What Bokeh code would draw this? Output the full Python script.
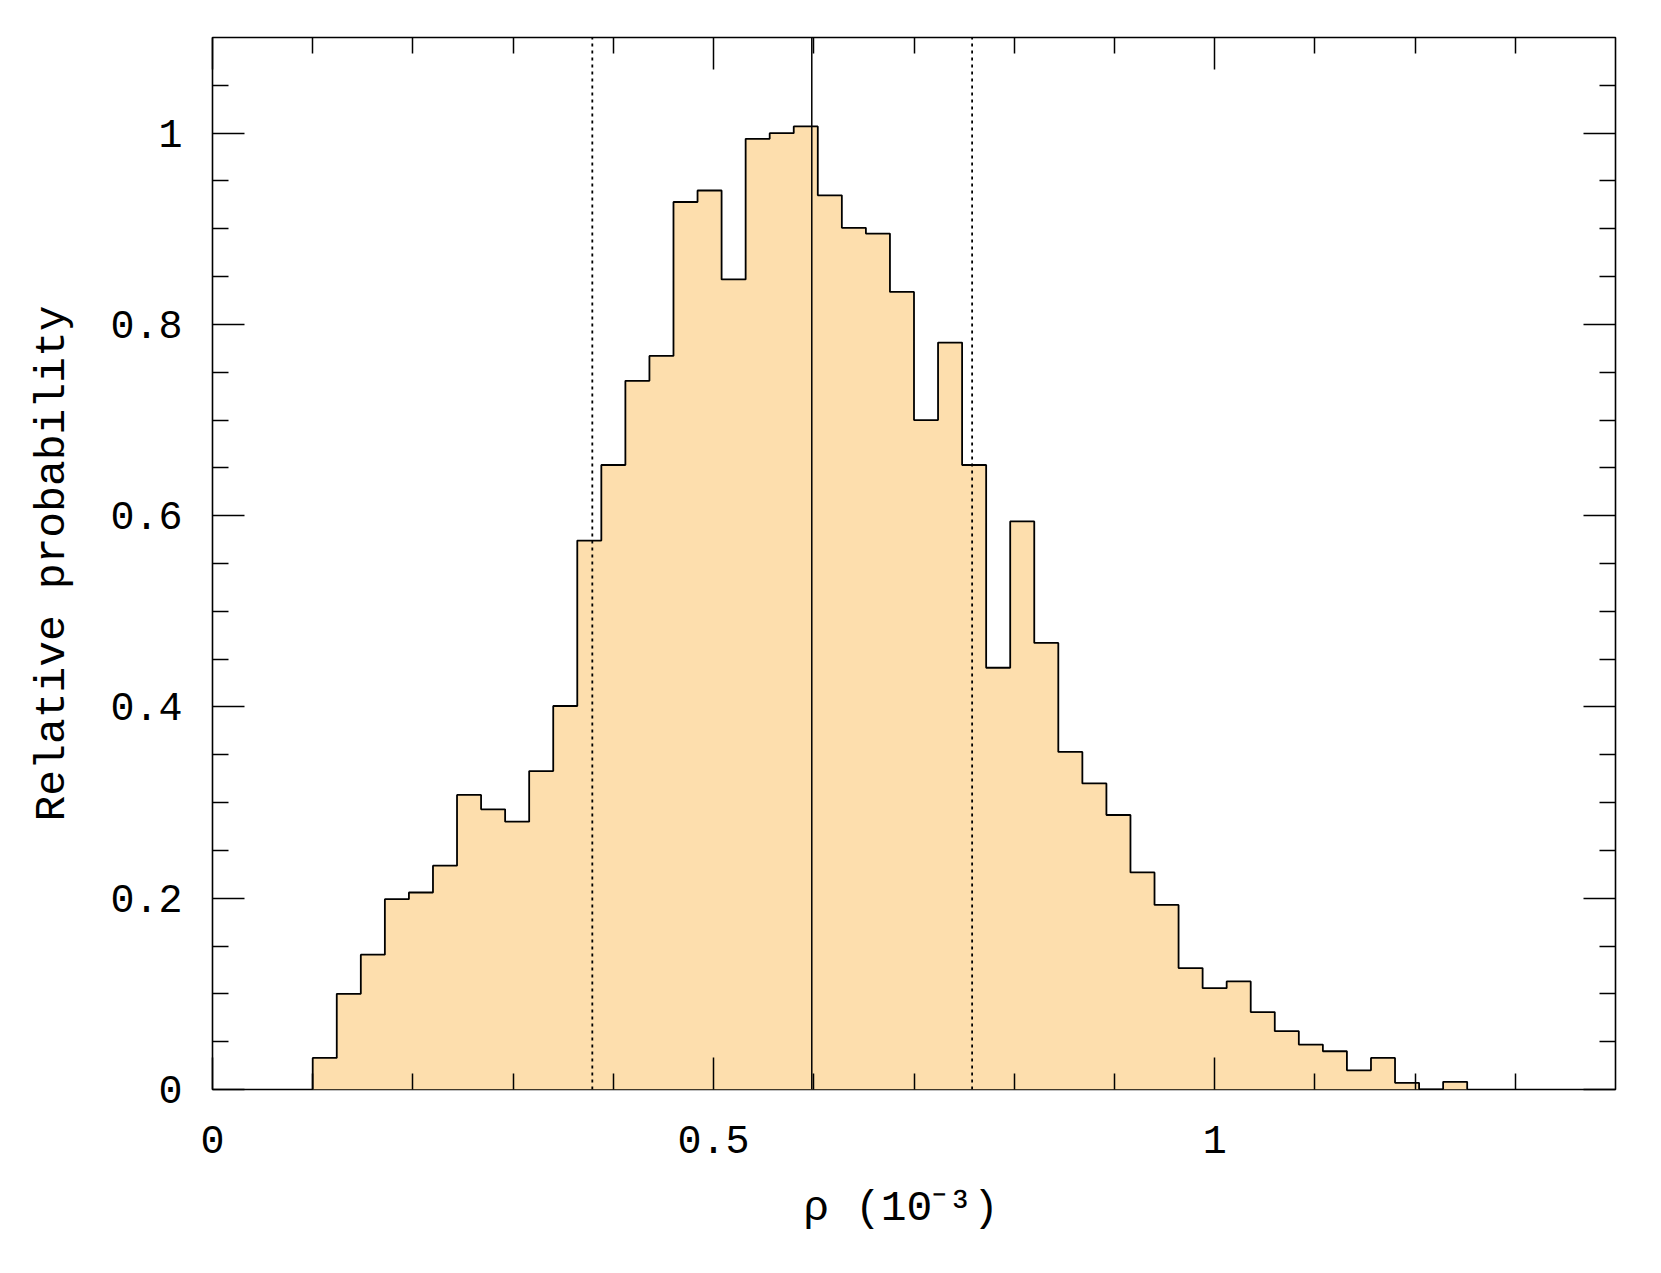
from bokeh.plotting import figure
from bokeh.models import LinearAxis, FixedTicker, CustomJSTickFormatter, Range1d
from bokeh.embed import file_html
from bokeh.resources import INLINE

# ---- data ----
bin_start = 0.100
bin_width = 0.024
probability = [0.033, 0.100, 0.141, 0.199, 0.206, 0.234, 0.308, 0.293, 0.280, 0.333,
               0.401, 0.574, 0.653, 0.741, 0.767, 0.928, 0.940, 0.847, 0.994, 1.000,
               1.007, 0.935, 0.901, 0.895, 0.834, 0.700, 0.781, 0.653, 0.441, 0.594,
               0.467, 0.353, 0.320, 0.287, 0.227, 0.193, 0.127, 0.106, 0.113, 0.081,
               0.061, 0.047, 0.040, 0.020, 0.033, 0.007, 0.000, 0.008]
median_x = [0.598]
interval_x = [0.379, 0.758]
x_major_ticks = [0, 0.5, 1.0]
x_minor_ticks = [0.1, 0.2, 0.3, 0.4, 0.6, 0.7, 0.8, 0.9, 1.1, 1.2, 1.3]
y_major_ticks = [0, 0.2, 0.4, 0.6, 0.8, 1.0]
y_minor_ticks = [0.05, 0.1, 0.15, 0.25, 0.3, 0.35, 0.45, 0.5, 0.55, 0.65, 0.7, 0.75,
                 0.85, 0.9, 0.95, 1.05]

lefts = [bin_start + i * bin_width for i in range(len(probability))]
rights = [l + bin_width for l in lefts]

FONT = "Liberation Mono"
FILL = "#fddead"

p = figure(width=1648, height=1258, output_backend="svg", toolbar_location=None,
           x_range=Range1d(0, 1.4), y_range=Range1d(0, 1.1),
           min_border_left=212, min_border_right=33, min_border_top=37, min_border_bottom=169,
           x_axis_location=None, y_axis_location=None)
p.grid.visible = False
p.outline_line_color = "black"
p.outline_line_width = 1.6
p.background_fill_color = "white"
p.border_fill_color = "white"

# histogram step path (outer outline only)
sx, sy = [lefts[0]], [0]
for l, r, v in zip(lefts, rights, probability):
    sx += [l, r]
    sy += [v, v]
sx.append(rights[-1])
sy.append(0)

# histogram fill as a single patch (no seams between bins)
p.patch(sx, sy, fill_color=FILL, line_color=None)
p.line(sx, sy, line_color="black", line_width=1.8)

# median and interval lines
p.segment(x0=median_x, y0=[0] * len(median_x), x1=median_x, y1=[1.1] * len(median_x),
          line_color="black", line_width=1.5)
p.segment(x0=interval_x, y0=[0] * len(interval_x), x1=interval_x, y1=[1.1] * len(interval_x),
          line_color="black", line_width=1.8, line_dash="3 4")

fmt = CustomJSTickFormatter(code="var s = tick.toFixed(1); return s.endsWith('.0') ? s.slice(0, -2) : s;")
blank = CustomJSTickFormatter(code="return '';")

def style(ax, labels=True):
    ax.axis_line_color = None
    ax.major_tick_in = 32
    ax.major_tick_out = 0
    ax.minor_tick_in = 16
    ax.minor_tick_out = 0
    ax.major_tick_line_width = 1.5
    ax.minor_tick_line_width = 1.5
    ax.major_tick_line_color = "black"
    ax.minor_tick_line_color = "black"
    ax.major_label_text_font = FONT
    ax.major_label_text_font_size = "40px"
    ax.major_label_text_color = "black"
    ax.axis_label_text_font = FONT
    ax.axis_label_text_font_size = "43px"
    ax.axis_label_text_font_style = "normal"
    ax.axis_label_text_color = "black"
    ax.formatter = fmt if labels else blank

xt = FixedTicker(ticks=x_major_ticks, minor_ticks=x_minor_ticks)
yt = FixedTicker(ticks=y_major_ticks, minor_ticks=y_minor_ticks)

xb = LinearAxis(ticker=xt, axis_label="ρ  (10⁻³)")
style(xb)
xb.major_label_standoff = 36
xb.axis_label_standoff = 28
p.add_layout(xb, "below")

yl = LinearAxis(ticker=yt, axis_label="Relative probability")
style(yl)
yl.major_label_standoff = 30
yl.axis_label_standoff = 30
p.add_layout(yl, "left")

xa = LinearAxis(ticker=xt)
style(xa, labels=False)
xa.major_label_text_font_size = "0px"
p.add_layout(xa, "above")

yr = LinearAxis(ticker=yt)
style(yr, labels=False)
yr.major_label_text_font_size = "0px"
p.add_layout(yr, "right")

open("out.html", "w").write(file_html(p, INLINE))
